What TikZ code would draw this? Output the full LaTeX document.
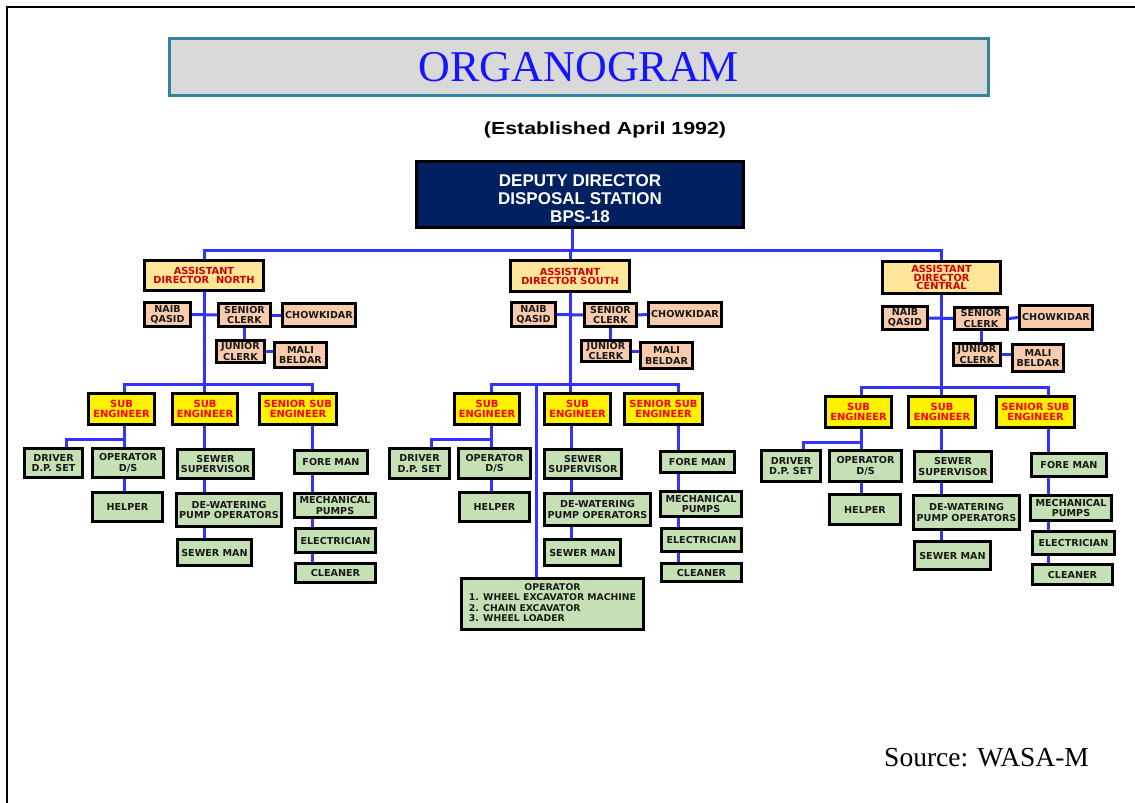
\documentclass[tikz,border=0pt]{standalone}
\usepackage{fontspec}
\usepackage{graphicx}
\setmainfont{DejaVu Sans}
\newfontfamily\arialf{Liberation Sans}
\newfontfamily\timesf{Liberation Serif}
\usetikzlibrary{calc}

\definecolor{linkblue}{RGB}{51,51,255}
\definecolor{navy}{RGB}{0,32,96}
\definecolor{adfill}{RGB}{255,230,153}
\definecolor{clfill}{RGB}{248,203,173}
\definecolor{stfill}{RGB}{197,224,180}
\definecolor{titlefill}{RGB}{217,217,217}
\definecolor{titleedge}{RGB}{49,132,155}
\definecolor{adred}{RGB}{204,0,0}
\definecolor{sered}{RGB}{255,0,0}
\definecolor{titleblue}{RGB}{20,20,255}

\pgfdeclarelayer{back}
\pgfdeclarelayer{bg}
\pgfsetlayers{back,bg,main}

\tikzset{
  box/.style={draw=black, line width=2.5pt, inner sep=0pt, align=center,
    font=\bfseries\fontsize{9.6}{10.3}\selectfont},
  adbox/.style={box, fill=adfill, text=adred, font=\bfseries\fontsize{9.8}{8.9}\selectfont},
  clbox/.style={box, fill=clfill, text=black!90},
  sebox/.style={box, line width=3pt, fill=yellow, text=sered,
    font=\bfseries\fontsize{9.9}{10.3}\selectfont},
  stbox/.style={box, line width=3pt, fill=stfill, text=black!90},
  link/.style={draw=linkblue, line width=3pt},
}

% \bx{name}{style}{x1}{y1}{x2}{y2}{text}: box spanning the given outer corners
\newcommand{\bx}[7]{%
  \node[#2, minimum width={#5-#3-3}, minimum height={#6-#4-3}]
    (#1) at ({(#3+#5)/2},{(#4+#6)/2}) {#7};}

\begin{document}
\begin{tikzpicture}[x=1pt,y=-1pt]
\useasboundingbox (0,0) rectangle (1135,803);
\begin{pgfonlayer}{back}
\fill[white] (0,0) rectangle (1135,803);
\end{pgfonlayer}
\draw[line width=1.8pt] (7,803) -- (7,7) -- (1135,7);

% heading
\node[draw=titleedge, line width=2.5pt, fill=titlefill, inner sep=0pt,
      minimum width=819, minimum height=57,
      text=titleblue, font=\timesf\fontsize{44}{44}\selectfont]
  (title) at (579,67) {ORGANOGRAM};
\node[font=\arialf\bfseries\fontsize{17.5}{17}\selectfont] (est) at (605,130)
  {\scalebox{1.22}[1]{(Established April 1992)}};

% head of the station
\node[draw=black, line width=3pt, fill=navy, inner sep=0pt,
      minimum width=327, minimum height=66, text=white,
      font=\arialf\bfseries\fontsize{17}{18.3}\selectfont]
  (dd) at (580,194.5)
  {\raisebox{-6.5pt}[\height][\depth]{\begin{tabular}{@{}c@{}}DEPUTY DIRECTOR\\DISPOSAL STATION\\BPS-18\end{tabular}}};

% ---------------- North ----------------
\bx{adn}{adbox}{143}{259}{265}{292}{ASSISTANT\\DIRECTOR\ \ NORTH}
\bx{nqn}{clbox}{143}{301}{192}{328}{NAIB\\QASID}
\bx{scn}{clbox}{217}{302}{272}{328}{SENIOR\\CLERK}
\bx{chn}{clbox}{281}{302}{357}{328}{CHOWKIDAR}
\bx{jcn}{clbox}{215}{339}{266}{364}{JUNIOR\\CLERK}
\bx{mbn}{clbox}{273}{341}{328}{369}{MALI\\BELDAR}
\bx{se1n}{sebox}{87}{392}{156}{426}{SUB\\ENGINEER}
\bx{se2n}{sebox}{171}{392}{239}{426}{SUB\\ENGINEER}
\bx{se3n}{sebox}{258}{392}{338}{426}{SENIOR SUB\\ENGINEER}
\bx{drn}{stbox}{23}{447}{84}{479}{DRIVER\\D.P. SET}
\bx{opn}{stbox}{91}{447}{165}{479}{OPERATOR\\D/S}
\bx{hen}{stbox}{91}{491}{164}{523}{HELPER}
\bx{ssn}{stbox}{176}{448}{255}{480}{SEWER\\SUPERVISOR}
\bx{dwn}{stbox}{175}{492}{283}{528}{DE-WATERING\\PUMP OPERATORS}
\bx{smn}{stbox}{176}{538}{253}{567}{SEWER MAN}
\bx{fmn}{stbox}{293}{449}{369}{475}{FORE MAN}
\bx{mpn}{stbox}{293}{492}{377}{519}{MECHANICAL\\PUMPS}
\bx{eln}{stbox}{294}{527}{377}{554}{ELECTRICIAN}
\bx{cln}{stbox}{294}{562}{377}{584}{CLEANER}

% ---------------- South ----------------
\bx{ads}{adbox}{509}{259}{631}{293}{ASSISTANT\\DIRECTOR\ SOUTH}
\bx{nqs}{clbox}{510}{301}{557}{328}{NAIB\\QASID}
\bx{scs}{clbox}{583}{302}{638}{328}{SENIOR\\CLERK}
\bx{chs}{clbox}{647}{301}{723}{328}{CHOWKIDAR}
\bx{jcs}{clbox}{580}{339}{632}{363}{JUNIOR\\CLERK}
\bx{mbs}{clbox}{639}{341}{694}{370}{MALI\\BELDAR}
\bx{se1s}{sebox}{453}{392}{521}{426}{SUB\\ENGINEER}
\bx{se2s}{sebox}{543}{392}{612}{426}{SUB\\ENGINEER}
\bx{se3s}{sebox}{623}{392}{704}{426}{SENIOR SUB\\ENGINEER}
\bx{drs}{stbox}{388}{447}{451}{480}{DRIVER\\D.P. SET}
\bx{ops}{stbox}{457}{447}{532}{480}{OPERATOR\\D/S}
\bx{hes}{stbox}{458}{491}{531}{523}{HELPER}
\bx{sss}{stbox}{543}{448}{623}{480}{SEWER\\SUPERVISOR}
\bx{dws}{stbox}{543}{492}{652}{527}{DE-WATERING\\PUMP OPERATORS}
\bx{sms}{stbox}{543}{538}{622}{567}{SEWER MAN}
\bx{fms}{stbox}{659}{450}{736}{474}{FORE MAN}
\bx{mps}{stbox}{659}{490}{743}{518}{MECHANICAL\\PUMPS}
\bx{els}{stbox}{660}{527}{743}{553}{ELECTRICIAN}
\bx{cls}{stbox}{660}{562}{743}{583}{CLEANER}
\bx{opx}{stbox}{460}{577}{645}{631}{%
  \fontsize{9.3}{10.4}\selectfont
  \begin{tabular}{@{}l@{}}
  \multicolumn{1}{@{}c@{}}{OPERATOR}\\
  1. WHEEL EXCAVATOR MACHINE\\
  2. CHAIN EXCAVATOR\\
  3. WHEEL LOADER
  \end{tabular}}

% ---------------- Central ----------------
\bx{adc}{adbox}{881}{260}{1002}{295}{ASSISTANT\\DIRECTOR\\CENTRAL}
\bx{nqc}{clbox}{881}{305}{929}{331}{NAIB\\QASID}
\bx{scc}{clbox}{953}{306}{1009}{331}{SENIOR\\CLERK}
\bx{chc}{clbox}{1018}{304}{1094}{331}{CHOWKIDAR}
\bx{jcc}{clbox}{952}{342}{1002}{367}{JUNIOR\\CLERK}
\bx{mbc}{clbox}{1011}{343}{1065}{373}{MALI\\BELDAR}
\bx{se1c}{sebox}{824}{395}{893}{429}{SUB\\ENGINEER}
\bx{se2c}{sebox}{907}{395}{977}{429}{SUB\\ENGINEER}
\bx{se3c}{sebox}{995}{395}{1076}{429}{SENIOR SUB\\ENGINEER}
\bx{drc}{stbox}{760}{449}{822}{483}{DRIVER\\D.P. SET}
\bx{opc}{stbox}{828}{449}{903}{483}{OPERATOR\\D/S}
\bx{hec}{stbox}{828}{493}{902}{526}{HELPER}
\bx{ssc}{stbox}{913}{450}{993}{483}{SEWER\\SUPERVISOR}
\bx{dwc}{stbox}{912}{494}{1021}{531}{DE-WATERING\\PUMP OPERATORS}
\bx{smc}{stbox}{913}{540}{992}{571}{SEWER MAN}
\bx{fmc}{stbox}{1030}{452}{1108}{478}{FORE MAN}
\bx{mpc}{stbox}{1029}{494}{1113}{522}{MECHANICAL\\PUMPS}
\bx{elc}{stbox}{1031}{530}{1116}{556}{ELECTRICIAN}
\bx{clc}{stbox}{1031}{563}{1114}{586}{CLEANER}

\node[font=\timesf\fontsize{27.5}{30}\selectfont, anchor=base west, inner sep=0pt]
  (src) at (884,766) {Source: WASA-M};

% ---------------- connectors ----------------
\coordinate (topbar) at (572,250);
\coordinate (n1) at (124,384); \coordinate (n2) at (204,384);
\coordinate (n3) at (312,384); \coordinate (n1d) at (66,439);
\coordinate (s1) at (491,384); \coordinate (s2) at (571,384);
\coordinate (s3) at (678,384); \coordinate (s4) at (536,384);
\coordinate (s1d) at (431,439);
\coordinate (c1) at (861,387); \coordinate (c2) at (941,387);
\coordinate (c3) at (1048,387); \coordinate (c1d) at (803,442);

\begin{pgfonlayer}{bg}
% station head to the three assistant directors
\draw[link] (dd.south -| topbar) -- (topbar);
\draw[link] (adn.north) -- (adn.north |- topbar) -- (adc.north |- topbar) -- (adc.north);
\draw[link] (ads.north |- topbar) -- (ads.north);

% North
\draw[link] (adn.south) -- (adn.south |- se2n.north);
\draw[link] (n1 |- se1n.north) -- (n1) -- (n3) -- (n3 |- se3n.north);
\draw[link] (nqn.east) -- (scn.west);
\draw[link] (scn.east) -- (chn.west);
\draw[link] (scn.south) -- (scn.south |- jcn.north);
\draw[link] (jcn.east) -- (jcn.east -| mbn.west);
\draw[link] (n1 |- se1n.south) -- (n1 |- opn.north);
\draw[link] (n1 |- n1d) -- (n1d) -- (n1d |- drn.north);
\draw[link] (n1 |- opn.south) -- (n1 |- hen.north);
\draw[link] (n2 |- se2n.south) -- (n2 |- ssn.north);
\draw[link] (n2 |- ssn.south) -- (n2 |- dwn.north);
\draw[link] (n2 |- dwn.south) -- (n2 |- smn.north);
\draw[link] (n3 |- se3n.south) -- (n3 |- fmn.north);
\draw[link] (n3 |- fmn.south) -- (n3 |- mpn.north);
\draw[link] (n3 |- mpn.south) -- (n3 |- eln.north);
\draw[link] (n3 |- eln.south) -- (n3 |- cln.north);

% South
\draw[link] (ads.south) -- (ads.south |- se2s.north);
\draw[link] (s1 |- se1s.north) -- (s1) -- (s3) -- (s3 |- se3s.north);
\draw[link] (s4) -- (s4 |- opx.north);
\draw[link] (nqs.east) -- (scs.west);
\draw[link] (scs.east) -- (chs.west);
\draw[link] (scs.south) -- (scs.south |- jcs.north);
\draw[link] (jcs.east) -- (jcs.east -| mbs.west);
\draw[link] (s1 |- se1s.south) -- (s1 |- ops.north);
\draw[link] (s1 |- s1d) -- (s1d) -- (s1d |- drs.north);
\draw[link] (s1 |- ops.south) -- (s1 |- hes.north);
\draw[link] (s2 |- se2s.south) -- (s2 |- sss.north);
\draw[link] (s2 |- sss.south) -- (s2 |- dws.north);
\draw[link] (s2 |- dws.south) -- (s2 |- sms.north);
\draw[link] (s3 |- se3s.south) -- (s3 |- fms.north);
\draw[link] (s3 |- fms.south) -- (s3 |- mps.north);
\draw[link] (s3 |- mps.south) -- (s3 |- els.north);
\draw[link] (s3 |- els.south) -- (s3 |- cls.north);

% Central
\draw[link] (adc.south) -- (adc.south |- se2c.north);
\draw[link] (c1 |- se1c.north) -- (c1) -- (c3) -- (c3 |- se3c.north);
\draw[link] (nqc.east) -- (scc.west);
\draw[link] (scc.east) -- (chc.west);
\draw[link] (scc.south) -- (scc.south |- jcc.north);
\draw[link] (jcc.east) -- (jcc.east -| mbc.west);
\draw[link] (c1 |- se1c.south) -- (c1 |- opc.north);
\draw[link] (c1 |- c1d) -- (c1d) -- (c1d |- drc.north);
\draw[link] (c1 |- opc.south) -- (c1 |- hec.north);
\draw[link] (c2 |- se2c.south) -- (c2 |- ssc.north);
\draw[link] (c2 |- ssc.south) -- (c2 |- dwc.north);
\draw[link] (c2 |- dwc.south) -- (c2 |- smc.north);
\draw[link] (c3 |- se3c.south) -- (c3 |- fmc.north);
\draw[link] (c3 |- fmc.south) -- (c3 |- mpc.north);
\draw[link] (c3 |- mpc.south) -- (c3 |- elc.north);
\draw[link] (c3 |- elc.south) -- (c3 |- clc.north);
\end{pgfonlayer}
\end{tikzpicture}
\end{document}
